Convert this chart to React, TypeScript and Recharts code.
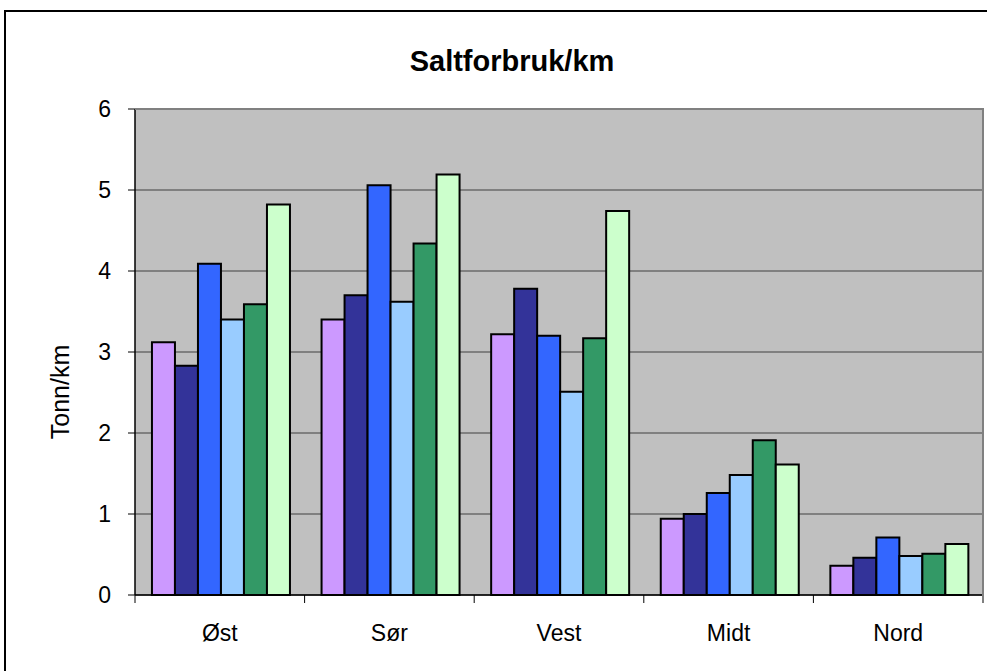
import { BarChart, Bar, XAxis, YAxis, CartesianGrid } from "recharts";

const regions = ["Øst", "Sør", "Vest", "Midt", "Nord"];
const serie1 = [3.12, 3.4, 3.22, 0.94, 0.36];
const serie2 = [2.83, 3.7, 3.78, 1.0, 0.46];
const serie3 = [4.09, 5.06, 3.2, 1.26, 0.71];
const serie4 = [3.4, 3.62, 2.51, 1.48, 0.48];
const serie5 = [3.59, 4.34, 3.17, 1.91, 0.51];
const serie6 = [4.82, 5.19, 4.74, 1.61, 0.63];
const yTicks = [0, 1, 2, 3, 4, 5, 6];

const seriesKeys = ["s1", "s2", "s3", "s4", "s5", "s6"];
const colors = ["#CC99FF", "#333399", "#3366FF", "#99CCFF", "#339966", "#CCFFCC"];

const data = regions.map((r, i) => ({
  region: r,
  s1: serie1[i],
  s2: serie2[i],
  s3: serie3[i],
  s4: serie4[i],
  s5: serie5[i],
  s6: serie6[i],
}));

const FONT = "'Liberation Sans', Arial, sans-serif";
const PLOT_W = 848;
const BAND = PLOT_W / regions.length;

function XTick(props: any) {
  const { x, y, payload, index } = props;
  const left = x - BAND / 2;
  return (
    <g>
      <line x1={left} y1={y - 8} x2={left} y2={y} stroke="#000" strokeWidth={1} />
      {index === regions.length - 1 && (
        <line x1={left + BAND} y1={y - 8} x2={left + BAND} y2={y} stroke="#000" strokeWidth={1} />
      )}
      <text x={x} y={y + 38} textAnchor="middle" fontSize={23} fontFamily={FONT} fill="#000">
        {payload.value}
      </text>
    </g>
  );
}

export default function App() {
  return (
    <div style={{ position: "absolute", left: 0, top: 0, width: 987, height: 671, background: "#fff", overflow: "hidden", fontFamily: FONT }}>
      <div style={{ position: "absolute", left: 4, top: 10, width: 1000, height: 700, border: "2px solid #000", boxSizing: "border-box" }} />
      <div style={{ position: "absolute", left: 0, width: 1024, top: 47, lineHeight: "29px", textAlign: "center", fontWeight: "bold", fontSize: 29 }}>
        Saltforbruk/km
      </div>
      <div
        style={{
          position: "absolute",
          left: 60,
          top: 392,
          transform: "translate(-50%, -50%) rotate(-90deg)",
          fontSize: 25,
          lineHeight: "25px",
          whiteSpace: "nowrap",
        }}
      >
        Tonn/km
      </div>
      <div style={{ position: "absolute", left: 0, top: 0 }}>
        <BarChart
          width={987}
          height={671}
          data={data}
          margin={{ top: 109, right: 4, bottom: 36, left: 75 }}
          barCategoryGap="10%"
          barGap={0}
        >
          <CartesianGrid
            vertical={false}
            fill="#C0C0C0"
            fillOpacity={1}
            stroke="#404040"
            strokeWidth={1}
          />
          <XAxis
            dataKey="region"
            height={40}
            axisLine={{ stroke: "#000", strokeWidth: 1.5 }}
            tickLine={false}
            tick={<XTick />}
            interval={0}
          />
          <YAxis
            width={60}
            domain={[0, 6]}
            ticks={yTicks}
            interval={0}
            tickSize={7}
            tickMargin={17}
            axisLine={{ stroke: "#000", strokeWidth: 1.5 }}
            tickLine={{ stroke: "#000" }}
            tick={{ fontSize: 23, fontFamily: FONT, fill: "#000" }}
          />
          {seriesKeys.map((k, i) => (
            <Bar key={k} dataKey={k} fill={colors[i]} stroke="#000" strokeWidth={2} isAnimationActive={false} />
          ))}
        </BarChart>
      </div>
      <div
        style={{
          position: "absolute",
          left: 135,
          top: 108,
          width: 849,
          height: 488,
          borderTop: "2px solid #808080",
          borderRight: "2px solid #808080",
          boxSizing: "border-box",
          pointerEvents: "none",
        }}
      />
    </div>
  );
}
